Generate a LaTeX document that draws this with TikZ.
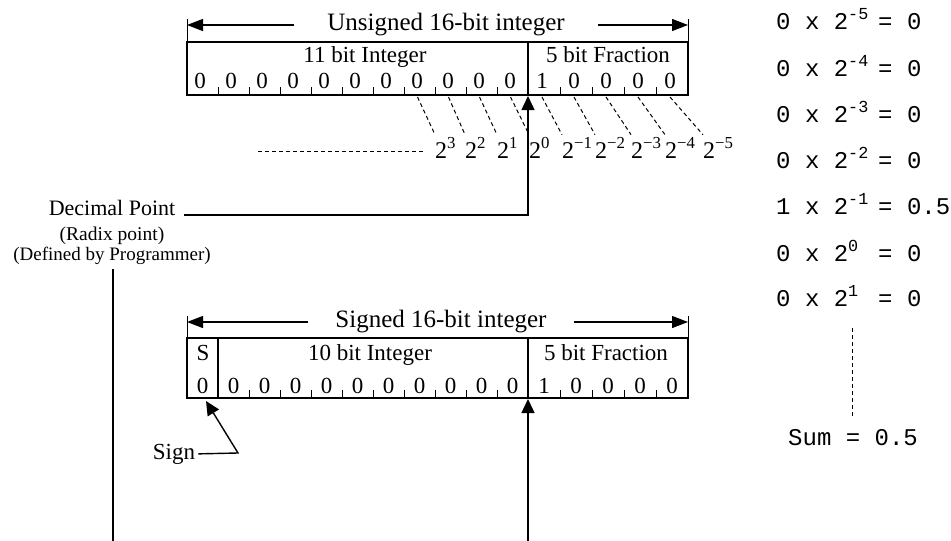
\documentclass[tikz,border=0pt]{standalone}
\usepackage{fontspec}
\setmainfont{Liberation Serif}
\newfontfamily\monofont{Liberation Mono}
\usetikzlibrary{arrows.meta}

\tikzset{
  frame/.style={line width=2.6pt},
  split/.style={line width=1.6pt},
  tick/.style={line width=1pt},
  celltxt/.style={font=\fontsize{23}{27}\selectfont, inner sep=0pt, anchor=base},
  notetxt/.style={font=\fontsize{19.5}{23}\selectfont, inner sep=0pt, anchor=base},
  dimtxt/.style={font=\fontsize{25}{29}\selectfont, inner ysep=0pt},
  dimarrow/.style={line width=1.3pt, -{Triangle[length=16pt,width=12pt]}},
  ptr/.style={line width=1.4pt, -{Triangle[length=14pt,width=13pt]}},
  lead/.style={line width=1.4pt},
  powtxt/.style={font=\fontsize{24}{28}\selectfont, inner sep=0pt, anchor=base west},
  calctxt/.style={font=\monofont\fontsize{24}{28}\selectfont, inner sep=0pt, anchor=base west},
  guide/.style={line width=1pt, dash pattern=on 4pt off 3pt},
}

\begin{document}
\begin{tikzpicture}[x=1pt,y=-1pt]
\useasboundingbox (0,0) rectangle (951,541);

% unsigned word
\node[dimtxt, inner xsep=33pt] (utitle) at (446,25) {Unsigned 16-bit integer};
\coordinate (uL) at (187,25);
\coordinate (uR) at (688,25);
\draw[dimarrow] (utitle.west) -- (uL);
\draw[dimarrow] (utitle.east) -- (uR);
\draw[tick] (187,19) -- (187,42);
\draw[tick] (688,19) -- (688,42);
\draw[frame] (187,42) rectangle (688,95);
\draw[split] (528,42) -- (528,95);
\foreach \k in {1,...,10} \draw[tick] ({187+31*\k},87) -- ({187+31*\k},95);
\foreach \k in {1,...,4} \draw[tick] ({528+32*\k},87) -- ({528+32*\k},95);
\node[celltxt] (uint) at (365,62) {11 bit Integer};
\node[celltxt] (ufrac) at (608,62) {5 bit Fraction};
\foreach \k in {0,...,10} \node[celltxt] (ub\k) at ({200+31*\k},88) {0};
\foreach \v [count=\k] in {1,0,0,0,0} \node[celltxt] (uf\k) at ({510+32*\k},88) {\v};

% place values
\foreach \ex/\lx/\cx [count=\k] in {3/435/419.5, 2/465/450.5, 1/497/481.5, 0/529/512.5, −1/562/544, −2/595/576, −3/631/608, −4/665/640, −5/703/672}{
  \node[powtxt] (pw\k) at (\lx,158) {2\textsuperscript{\ex}};
  \draw[guide] ({\cx-2},97) -- ([yshift=3pt]pw\k.north west);
}
\coordinate (dashL) at (258,151);
\draw[guide] (dashL) -- ++(167,0);

% radix point
\node[notetxt, font=\fontsize{22}{26}\selectfont] (dp) at (112,215) {Decimal Point};
\node[notetxt] (radix) at (112,240) {(Radix point)};
\node[notetxt, font=\fontsize{19}{23}\selectfont] (prog) at (112,260) {(Defined by Programmer)};
\coordinate (urad) at (528,96);
\draw[ptr] ([xshift=9pt]dp.base east) -| (urad);
\coordinate (progfoot) at (113,269);
\coordinate (lowL) at (113,541);
\draw[lead] (progfoot) -- (lowL);

% signed word
\node[dimtxt, inner xsep=27pt] (stitle) at (441,322) {Signed 16-bit integer};
\coordinate (sL) at (187,322);
\coordinate (sR) at (688,322);
\draw[dimarrow] (stitle.west) -- (sL);
\draw[dimarrow] (stitle.east) -- (sR);
\draw[tick] (187,316) -- (187,338);
\draw[tick] (688,316) -- (688,338);
\draw[frame] (187,338) rectangle (688,398);
\draw[split] (218,338) -- (218,398);
\draw[split] (528,338) -- (528,398);
\foreach \k in {1,...,9} \draw[tick] ({218+31*\k},390) -- ({218+31*\k},398);
\foreach \k in {1,...,4} \draw[tick] ({528+32*\k},390) -- ({528+32*\k},398);
\node[celltxt] (slbl) at (203,360) {S};
\node[celltxt] (sint) at (370,360) {10 bit Integer};
\node[celltxt] (sfrac) at (606,360) {5 bit Fraction};
\node[celltxt] (sb) at (202.5,393) {0};
\foreach \k in {0,...,9} \node[celltxt] (si\k) at ({233.5+31*\k},393) {0};
\foreach \v [count=\k] in {1,0,0,0,0} \node[celltxt] (sf\k) at ({512+32*\k},393) {\v};

\node[celltxt] (sign) at (174,459) {Sign};
\coordinate (sbend) at (238,453);
\coordinate (sbit) at (206,401);
\draw[ptr] ([xshift=3pt]sign.east) -- (sbend) -- (sbit);
\coordinate (srad) at (528,399);
\coordinate (lowR) at (528,541);
\draw[ptr] (lowR) -- (srad);

% weighted sum
\foreach \cf/\ex/\y/\rv [count=\k] in {0/-5/29/0, 0/-4/76/0, 0/-3/122/0, 0/-2/168/0, 1/-1/214/0.5, 0/0/261/0, 0/1/306/0}{
  \node[calctxt] (term\k) at (776,\y) {\cf{} x 2\textsuperscript{\ex}};
  \node[calctxt] (res\k) at (878,\y) {= \rv};
}
\coordinate (vtop) at (852,328);
\coordinate (vbot) at (852,418);
\draw[guide] (vtop) -- (vbot);
\node[calctxt] (sum) at (788,445) {Sum = 0.5};
\end{tikzpicture}
\end{document}
